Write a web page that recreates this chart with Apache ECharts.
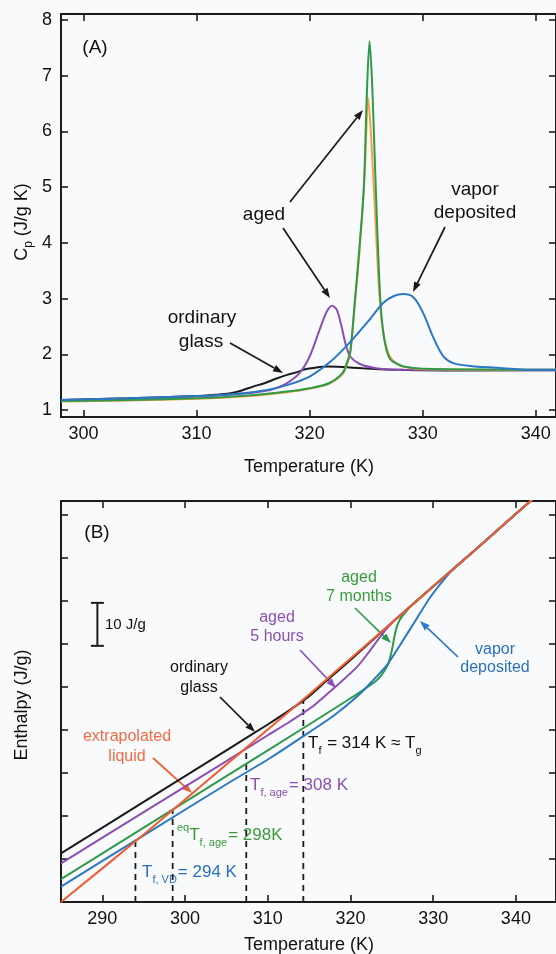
<!DOCTYPE html>
<html>
<head>
<meta charset="utf-8">
<script src="https://cdn.jsdelivr.net/npm/echarts@6/dist/echarts.min.js"></script>
<style>
  html, body { margin: 0; padding: 0; background: #f9fafc; }
  #chart { width: 556px; height: 954px; }
</style>
</head>
<body>
<div id="chart"></div>
<script>
// ---- data ----
// panel A: heat capacity, [T (K), Cp (J/g K)]
var tTicksA = [300, 310, 320, 330, 340];
var cpTicks = [1, 2, 3, 4, 5, 6, 7, 8];
var cpOrdinary = [[298,1.18],[304,1.21],[310,1.25],[312,1.28],[313,1.30],[314,1.35],[315,1.42],[316,1.48],[317,1.56],[318,1.63],[318.9,1.68],[319.6,1.73],[320.5,1.76],[321.6,1.78],[323,1.77],[324.7,1.75],[327.7,1.72],[332,1.71],[342,1.72]];
var cpAged5h = [[298,1.17],[304,1.2],[310,1.24],[314,1.29],[316.5,1.36],[317.9,1.47],[319.1,1.66],[320,1.96],[320.9,2.45],[321.5,2.76],[322,2.87],[322.4,2.8],[322.8,2.52],[323.2,2.17],[323.6,1.96],[324.4,1.83],[325.9,1.75],[328.3,1.72],[342,1.71]];
var cpAgedOrange = [[298,1.15],[304,1.17],[310,1.2],[314,1.24],[318,1.32],[320,1.38],[321.7,1.47],[322.9,1.64],[323.3,1.82],[323.6,2.03],[324,2.9],[324.4,3.8],[324.8,5.0],[325.0,5.9],[325.15,6.62],[325.35,6.2],[325.6,5.3],[325.85,4.3],[326.1,3.3],[326.35,2.65],[326.7,2.2],[327.1,1.96],[327.6,1.85],[328.3,1.78],[330,1.73],[342,1.72]];
var cpAged7m = [[298,1.16],[304,1.18],[310,1.21],[314,1.25],[318,1.33],[320,1.39],[321.7,1.48],[322.9,1.66],[323.3,1.85],[323.6,2.05],[324,2.95],[324.4,3.9],[324.8,5.0],[325.05,6.6],[325.3,7.62],[325.5,7.0],[325.65,6.2],[325.85,5.0],[326.05,3.9],[326.25,3.0],[326.45,2.5],[326.75,2.12],[327.1,1.92],[327.6,1.84],[328.3,1.78],[330,1.74],[342,1.72]];
var cpVapor = [[298,1.18],[304,1.21],[310,1.25],[312.8,1.28],[314.5,1.31],[316.5,1.37],[318.2,1.46],[320,1.6],[321.8,1.86],[323.5,2.2],[325.3,2.62],[326.5,2.92],[327.5,3.05],[328.3,3.08],[329.2,3.02],[330,2.76],[330.9,2.32],[331.8,1.97],[332.7,1.84],[334.2,1.79],[337.1,1.75],[340,1.72],[342,1.72]];

// panel B: enthalpy, [T (K), H (J/g, arbitrary zero)]
var tTicksB = [290, 300, 310, 320, 330, 340];
var hTicks = [10, 20, 30, 40, 50, 60, 70, 80, 90];
var hLiquid = [[285,0],[295,15.7],[305,32.0],[315,48.3],[325,65.0],[335,81.8],[345,98.8]];
var hOrdinary = [[285,11.3],[295,23.3],[305,35.3],[310,41.3],[313,45.1],[315,47.9],[317,51.3],[320,56.3],[325,65.0],[335,81.8],[345,98.8]];
var hAged5h = [[285,9.0],[295,20.9],[305,32.8],[310,38.8],[312.7,42.0],[315.5,45.6],[317.9,49.6],[320.8,54.7],[322.4,58.6],[323.4,61.2],[324.2,63.2],[325,65.0],[335,81.8],[345,98.8]];
var hAged7m = [[285,5.3],[295,17.3],[305,29.3],[315,41.3],[320,47.4],[323,51.3],[324,53.5],[324.6,55.6],[325.0,58.5],[325.3,61.6],[325.6,64.0],[326,65.8],[326.6,67.3],[327.5,69.2],[335,81.8],[345,98.8]];
var hVapor = [[285,3.6],[295,15.5],[305,27.4],[310.3,33.5],[315.1,39.6],[318,43.4],[320.8,47.8],[322.6,51.3],[324.4,55.1],[326,59.8],[328,65.9],[329.6,70.8],[331.2,74.8],[332.5,77.6],[335,81.8],[345,98.8]];
var tfTemps = [294, 298.5, 307.4, 314.3];
var tfTops = [14.1, 21.4, 35.8, 47.2];
var scaleBarT = 289.4;
var scaleBarH = [59.6, 69.6];

// ---- styles ----
var FONT = 'Liberation Sans, Arial, Helvetica, sans-serif';
var INK = '#1c1c1c';
var C_BLACK = '#1a1a1a', C_PURPLE = '#8b4fb3', C_GREEN = '#2f9a4a', C_BLUE = '#2b78c5';
var C_ORANGE_A = '#f5a145', C_ORANGE_B = '#f25a2f';
var T_PURPLE = '#8a50b0', T_GREEN = '#3a9b3a', T_BLUE = '#2c6fc0', T_ORANGE = '#f36a45';

var chart = echarts.init(document.getElementById('chart'));

function xAx(grid, pos, min, max, ticks, labels) {
    return {
        type: 'value', gridIndex: grid, position: pos, min: min, max: max,
        axisLine: { show: true, onZero: false, lineStyle: { color: INK, width: 2 } },
        axisTick: { show: true, inside: true, length: 7, customValues: ticks, lineStyle: { color: INK, width: 1.6 } },
        axisLabel: { show: labels, customValues: ticks, margin: 8, color: '#111', fontSize: 18, fontFamily: FONT },
        splitLine: { show: false }
    };
}
function yAx(grid, pos, min, max, ticks, labels) {
    return {
        type: 'value', gridIndex: grid, position: pos, min: min, max: max,
        axisLine: { show: true, onZero: false, lineStyle: { color: INK, width: 2 } },
        axisTick: { show: true, inside: true, length: 7, customValues: ticks, lineStyle: { color: INK, width: 1.6 } },
        axisLabel: { show: labels, customValues: ticks, margin: 9, color: '#111', fontSize: 18, fontFamily: FONT },
        splitLine: { show: false }
    };
}
function curve(xi, yi, data, color, smooth) {
    return {
        type: 'line', xAxisIndex: xi, yAxisIndex: yi, data: data, showSymbol: false,
        smooth: smooth, silent: true, animation: false,
        lineStyle: { color: color, width: 2 }
    };
}

function txt(x, y, text, color, size, align, rich) {
    return {
        type: 'text', x: x, y: y, silent: true,
        style: { text: text, fill: color, font: size + 'px ' + FONT, align: align || 'center', verticalAlign: 'middle', rich: rich }
    };
}
function arrow(x1, y1, x2, y2, color) {
    var a = Math.atan2(y2 - y1, x2 - x1), L = 10, W = 3.6;
    var bx = x2 - L * Math.cos(a), by = y2 - L * Math.sin(a);
    return [
        { type: 'line', silent: true, shape: { x1: x1, y1: y1, x2: bx, y2: by }, style: { stroke: color, lineWidth: 1.7 } },
        { type: 'polygon', silent: true, shape: { points: [[x2, y2], [bx - W * Math.sin(a), by + W * Math.cos(a)], [bx + W * Math.sin(a), by - W * Math.cos(a)]] }, style: { fill: color } }
    ];
}
function subRich(color) {
    return {
        m: { fontSize: 17, fontFamily: FONT, color: color, lineHeight: 26 },
        s: { fontSize: 11, fontFamily: FONT, color: color, verticalAlign: 'bottom', padding: [0, 1, 0, 0] },
        u: { fontSize: 11, fontFamily: FONT, color: color, verticalAlign: 'top' }
    };
}

var series = [
    curve(0, 0, cpOrdinary, C_BLACK, 0.3),
    curve(0, 0, cpAged5h, C_PURPLE, 0.3),
    curve(0, 0, cpAgedOrange, C_ORANGE_A, 0.3),
    curve(0, 0, cpAged7m, C_GREEN, 0.3),
    curve(0, 0, cpVapor, C_BLUE, 0.3),
    curve(2, 2, hOrdinary, C_BLACK, 0.25),
    curve(2, 2, hAged5h, C_PURPLE, 0.25),
    curve(2, 2, hAged7m, C_GREEN, 0.25),
    curve(2, 2, hVapor, C_BLUE, 0.25),
    curve(2, 2, hLiquid, C_ORANGE_B, 0.25)
];
tfTemps.forEach(function (t, i) {
    series.push({
        type: 'line', xAxisIndex: 2, yAxisIndex: 2, data: [[t, 0], [t, tfTops[i]]],
        showSymbol: false, silent: true, animation: false, z: 1,
        lineStyle: { color: INK, width: 1.8, type: [6, 5] }
    });
});
// 10 J/g scale bar
series.push({
    type: 'line', xAxisIndex: 2, yAxisIndex: 2, data: [[scaleBarT, scaleBarH[0]], [scaleBarT, scaleBarH[1]]],
    symbol: 'rect', symbolSize: [13, 2], showSymbol: true, silent: true, animation: false,
    itemStyle: { color: INK }, lineStyle: { color: INK, width: 2 }
});

var graphics = [
    // panel A
    txt(95, 48, '(A)', '#111', 19),
    txt(264, 215, 'aged', '#111', 19),
    txt(475, 190, 'vapor', '#111', 19),
    txt(475, 213, 'deposited', '#111', 19),
    txt(202, 318, 'ordinary', '#111', 19),
    txt(201, 342, 'glass', '#111', 19),
    txt(309, 467, 'Temperature (K)', '#111', 18),
    {
        type: 'text', x: 22, y: 222, rotation: Math.PI / 2, silent: true,
        style: { text: 'C{s|p} (J/g K)', fill: '#111', font: '18px ' + FONT, align: 'center', verticalAlign: 'middle',
            rich: { s: { fontSize: 12, fontFamily: FONT, verticalAlign: 'bottom', lineHeight: 26 } } }
    },
    // panel B
    txt(97, 533, '(B)', '#111', 19),
    txt(105, 625, '10 J/g', '#111', 15, 'left'),
    txt(199, 668, 'ordinary', '#111', 16),
    txt(199, 688, 'glass', '#111', 16),
    txt(277, 618, 'aged', T_PURPLE, 16),
    txt(277, 637, '5 hours', T_PURPLE, 16),
    txt(359, 578, 'aged', T_GREEN, 16),
    txt(359, 597, '7 months', T_GREEN, 16),
    txt(495, 650, 'vapor', T_BLUE, 16),
    txt(495, 668, 'deposited', T_BLUE, 16),
    txt(127, 737, 'extrapolated', T_ORANGE, 16),
    txt(127, 757, 'liquid', T_ORANGE, 16),
    txt(142, 872, '{m|T}{s|f, VD}{m|= 294 K}', T_BLUE, 17, 'left', subRich(T_BLUE)),
    txt(177, 835, '{u|eq}{m|T}{s|f, age}{m|= 298K}', T_GREEN, 17, 'left', subRich(T_GREEN)),
    txt(250, 785, '{m|T}{s|f, age}{m|= 308 K}', T_PURPLE, 17, 'left', subRich(T_PURPLE)),
    txt(308, 743, '{m|T}{s|f}{m| = 314 K \u2248 T}{s|g}', '#111', 17, 'left', subRich('#111')),
    txt(309, 945, 'Temperature (K)', '#111', 18),
    {
        type: 'text', x: 22, y: 705, rotation: Math.PI / 2, silent: true,
        style: { text: 'Enthalpy (J/g)', fill: '#111', font: '18px ' + FONT, align: 'center', verticalAlign: 'middle' }
    }
];
graphics = graphics
    .concat(arrow(290, 202, 363, 110, C_BLACK))
    .concat(arrow(283, 228, 330, 298, C_BLACK))
    .concat(arrow(445, 227, 413, 292, C_BLACK))
    .concat(arrow(230, 343, 283, 373, C_BLACK))
    .concat(arrow(220, 697, 255, 732, C_BLACK))
    .concat(arrow(153, 758, 192, 793, C_ORANGE_B))
    .concat(arrow(300, 650, 336, 688, C_PURPLE))
    .concat(arrow(355, 608, 391, 643, C_GREEN))
    .concat(arrow(458, 657, 420, 621, C_BLUE));

var option = {
    backgroundColor: '#f9fafc',
    animation: false,
    grid: [
        { left: 61, top: 14, width: 495, height: 403 },
        { left: 61, top: 501, width: 495, height: 401 }
    ],
    xAxis: [
        xAx(0, 'bottom', 298, 341.8, tTicksA, true),
        xAx(0, 'top', 298, 341.8, tTicksA, false),
        xAx(1, 'bottom', 285, 344.85, tTicksB, true),
        xAx(1, 'top', 285, 344.85, tTicksB, false)
    ],
    yAxis: [
        yAx(0, 'left', 0.874, 8.108, cpTicks, true),
        yAx(0, 'right', 0.874, 8.108, cpTicks, false),
        yAx(1, 'left', 0, 93.3, hTicks, false),
        yAx(1, 'right', 0, 93.3, hTicks, false)
    ],
    series: series,
    graphic: graphics
};
chart.setOption(option);
</script>
</body>
</html>
